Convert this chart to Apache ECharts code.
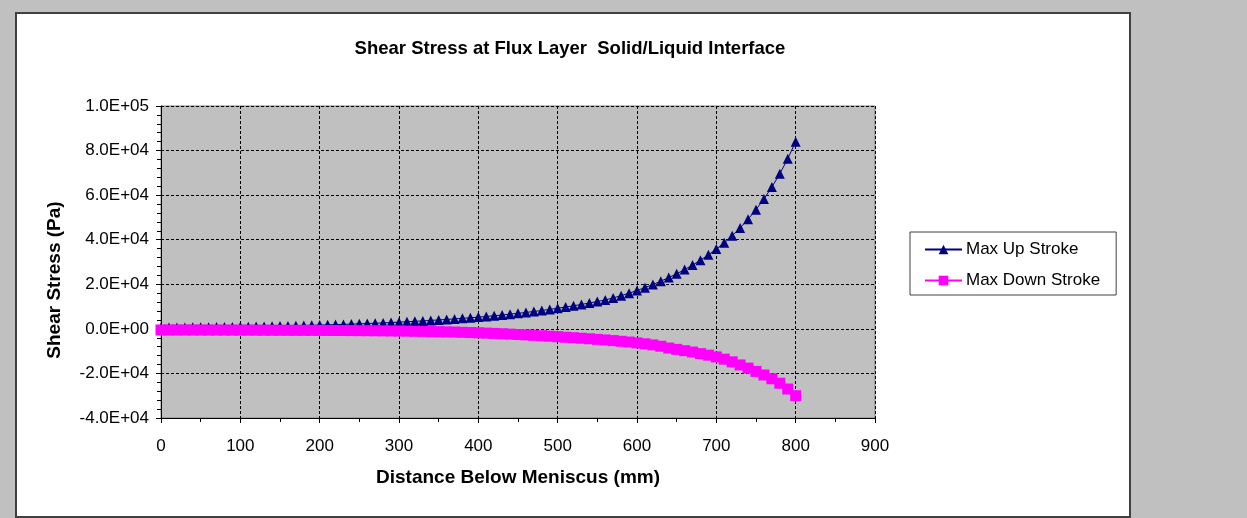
<!DOCTYPE html>
<html>
<head>
<meta charset="utf-8">
<title>Shear Stress at Flux Layer Solid/Liquid Interface</title>
<script src="https://cdn.jsdelivr.net/npm/echarts@6/dist/echarts.min.js"></script>
<style>
    html, body { margin: 0; padding: 0; background: #c0c0c0; }
    #panel {
        position: absolute; left: 15px; top: 12px;
        width: 1112px; height: 502px;
        background: #fff; border: 2px solid #404040;
    }
    #chart { position: absolute; left: 0; top: 0; width: 1247px; height: 518px; }
</style>
</head>
<body>
<div id="panel"></div>
<div id="chart"></div>
<script>
// 距离弯月面 (mm)
var distance = [
    0, 10, 20, 30, 40, 50, 60, 70, 80, 90,
    100, 110, 120, 130, 140, 150, 160, 170, 180, 190,
    200, 210, 220, 230, 240, 250, 260, 270, 280, 290,
    300, 310, 320, 330, 340, 350, 360, 370, 380, 390,
    400, 410, 420, 430, 440, 450, 460, 470, 480, 490,
    500, 510, 520, 530, 540, 550, 560, 570, 580, 590,
    600, 610, 620, 630, 640, 650, 660, 670, 680, 690,
    700, 710, 720, 730, 740, 750, 760, 770, 780, 790,
    800
];

// 上行程最大剪应力 (Pa)
var maxUpStroke = [
    600, 620, 640, 660, 690, 720, 750, 790, 830, 880,
    930, 990, 1050, 1110, 1180, 1250, 1330, 1420, 1510, 1600,
    1700, 1800, 1900, 2010, 2130, 2250, 2380, 2520, 2670, 2830,
    3000, 3180, 3370, 3570, 3780, 4000, 4230, 4470, 4720, 4990,
    5270, 5570, 5890, 6230, 6590, 6970, 7370, 7800, 8250, 8730,
    9240, 9780, 10350, 10960, 11600, 12280, 13000, 13900, 14900, 16000,
    17200, 18500, 19900, 21400, 23000, 24700, 26600, 28600, 30800, 33200,
    35800, 38600, 41800, 45300, 49200, 53500, 58300, 63600, 69600, 76300,
    84000
];

// 下行程最大剪应力 (Pa)
var maxDownStroke = [
    -500, -505, -510, -515, -520, -530, -540, -550, -560, -570,
    -580, -590, -600, -610, -620, -630, -645, -660, -672, -685,
    -700, -720, -740, -760, -780, -800, -830, -860, -890, -930,
    -970, -1020, -1080, -1140, -1200, -1270, -1350, -1440, -1540, -1650,
    -1770, -1900, -2040, -2190, -2350, -2520, -2700, -2890, -3090, -3300,
    -3520, -3760, -3980, -4210, -4450, -4710, -4980, -5270, -5580, -5910,
    -6300, -6700, -7200, -7800, -8600, -9200, -9800, -10400, -11100, -11800,
    -12600, -13600, -14800, -16200, -17600, -19100, -20700, -22400, -24400, -27000,
    -30000
];

// 纵轴刻度
var yMin = -40000;
var yStep = 20000;
var yTickLabels = ['-4.0E+04', '-2.0E+04', '0.0E+00', '2.0E+04', '4.0E+04', '6.0E+04', '8.0E+04', '1.0E+05'];

var pair = function (xs, ys) {
    return xs.map(function (x, i) { return [x, ys[i]]; });
};

var font = "'Liberation Sans', Arial, sans-serif";

var chart = echarts.init(document.getElementById('chart'));
var option = {
    animation: false,
    textStyle: { fontFamily: font, color: '#000' },
    title: {
        text: 'Shear Stress at Flux Layer  Solid/Liquid Interface',
        left: 565,
        top: 34,
        textAlign: 'center',
        textStyle: { fontFamily: font, fontSize: 18.5, fontWeight: 'bold', color: '#000' }
    },
    legend: {
        orient: 'vertical',
        left: 910,
        top: 232,
        padding: [9, 16, 6, 14],
        itemGap: 14,
        itemWidth: 37,
        itemHeight: 12,
        backgroundColor: '#fff',
        borderColor: '#404040',
        borderWidth: 1,
        borderRadius: 0,
        textStyle: { fontFamily: font, fontSize: 17, color: '#000', padding: [0, 0, 0, -1] },
        data: ['Max Up Stroke', 'Max Down Stroke']
    },
    grid: {
        left: 161,
        top: 106,
        right: 372,
        bottom: 100,
        show: true,
        backgroundColor: '#c0c0c0',
        borderColor: '#808080',
        borderWidth: 1
    },
    xAxis: {
        type: 'value',
        min: 0,
        max: 900,
        interval: 100,
        name: 'Distance Below Meniscus (mm)',
        nameLocation: 'middle',
        nameGap: 50,
        nameTextStyle: { fontFamily: font, fontSize: 19, fontWeight: 'bold', color: '#000' },
        axisLine: { onZero: false, lineStyle: { color: '#000', width: 1 } },
        axisTick: { length: 5, lineStyle: { color: '#000' } },
        minorTick: { show: true, splitNumber: 2, length: 4, lineStyle: { color: '#000' } },
        axisLabel: { fontSize: 17, color: '#000', margin: 20 },
        splitLine: { show: true, lineStyle: { color: '#000', type: [3, 2], width: 1 } }
    },
    yAxis: {
        type: 'value',
        min: yMin,
        max: 100000,
        interval: yStep,
        name: 'Shear Stress (Pa)',
        nameLocation: 'middle',
        nameGap: 97,
        nameTextStyle: {
            fontFamily: font, fontSize: 19, fontWeight: 'bold', color: '#000',
            padding: [0, 36, 0, 0]
        },
        axisLine: { show: true, onZero: false, lineStyle: { color: '#000', width: 1 } },
        axisTick: { show: true, length: 5, lineStyle: { color: '#000' } },
        minorTick: { show: true, splitNumber: 5, length: 4, lineStyle: { color: '#000' } },
        axisLabel: {
            fontSize: 17,
            color: '#000',
            margin: 12,
            formatter: function (v) {
                return yTickLabels[Math.round((v - yMin) / yStep)];
            }
        },
        splitLine: { show: true, lineStyle: { color: '#000', type: [3, 2], width: 1 } }
    },
    series: [
        {
            name: 'Max Up Stroke',
            type: 'line',
            data: pair(distance, maxUpStroke),
            symbol: 'triangle',
            symbolSize: [10, 10],
            color: '#000080',
            itemStyle: { color: '#000080' },
            lineStyle: { color: '#000080', width: 1 },
            z: 3
        },
        {
            name: 'Max Down Stroke',
            type: 'line',
            data: pair(distance, maxDownStroke),
            symbol: 'rect',
            symbolSize: 11,
            color: '#ff00ff',
            itemStyle: { color: '#ff00ff' },
            lineStyle: { color: '#ff00ff', width: 1 },
            z: 4
        }
    ]
};
chart.setOption(option);
</script>
</body>
</html>
